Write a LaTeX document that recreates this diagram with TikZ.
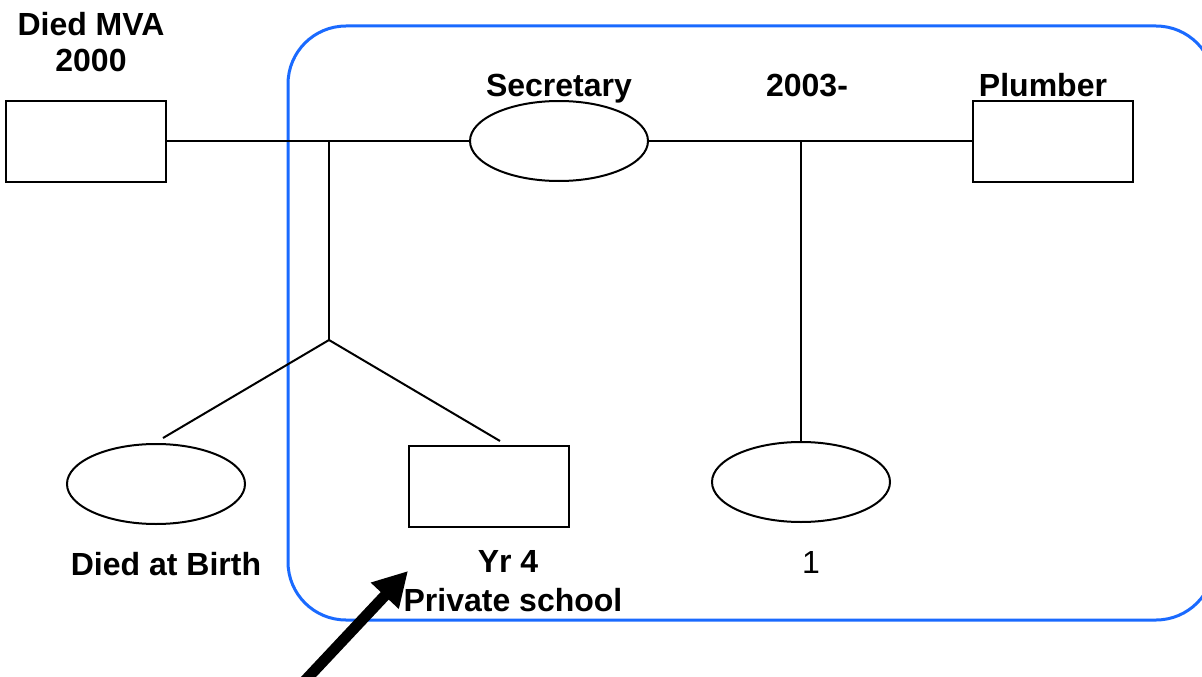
\documentclass[tikz,border=0pt]{standalone}
\usepackage{fontspec}
\setmainfont{Liberation Sans}
\usetikzlibrary{shapes.geometric,arrows.meta}
\definecolor{frameblue}{RGB}{26,106,255}
\tikzset{
  person/.style={draw=black,line width=2pt,minimum width=160pt,minimum height=81pt,inner sep=0pt},
  female/.style={draw=black,ellipse,line width=2pt,minimum width=178pt,minimum height=80pt,inner sep=0pt},
  lbl/.style={anchor=base,inner sep=0pt,font=\fontsize{32}{38}\selectfont\bfseries},
  lblplain/.style={anchor=base,inner sep=0pt,font=\fontsize{32}{38}\selectfont},
  link/.style={draw=black,line width=2pt},
}
\begin{document}
\begin{tikzpicture}[x=1pt,y=-1pt]
\useasboundingbox (0,0) rectangle (1202,677);
\clip (0,0) rectangle (1202,677);
% blue frame
\draw[frameblue,line width=3pt,rounded corners=58pt] (288,26) rectangle (1214,620);
% nodes
\node[person] (father1) at (86,141) {};
\node[female] (mother) at (559,141) {};
\node[person] (father2) at (1053,141) {};
\node[female] (girl1) at (156,484) {};
\node[person] (boy) at (489,486.5) {};
\node[female] (girl2) at (801,482) {};
% labels
\node[lbl] (l1) at (91,36) {Died MVA};
\node[lbl] (l2) at (91,72) {2000};
\node[lbl] (l3) at (559,96) {Secretary};
\node[lbl] (l4) at (807,96) {2003-};
\node[lbl] (l5) at (1043,96) {Plumber};
\node[lbl] (l6) at (166,575) {Died at Birth};
\node[lbl] (l7) at (508,572) {Yr 4};
\node[lbl] (l8) at (513,611) {Private school};
\node[lblplain] (l9) at (811,573) {1};
% connectors
\coordinate (m1) at (329,141);
\coordinate (tw) at (329,340);
\coordinate (m2) at (801,141);
\coordinate (g1top) at (163,438);
\coordinate (boytop) at (500,441);
\draw[link] (father1.east) -- (mother.west);
\draw[link] (mother.east) -- (father2.west);
\draw[link] (m1) -- (tw);
\draw[link] (tw) -- (g1top);
\draw[link] (tw) -- (boytop);
\draw[link] (m2) -- (girl2.north);
% arrow
\coordinate (atail) at (300,686);
\coordinate (atip) at (408,571);
\draw[line width=11pt,-{Triangle[length=34pt,width=36pt]}] (atail) -- (atip);
\end{tikzpicture}
\end{document}
